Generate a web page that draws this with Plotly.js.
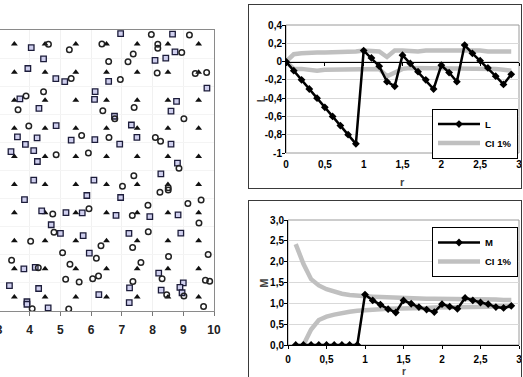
<!DOCTYPE html>
<html><head><meta charset="utf-8">
<script src="https://cdn.plot.ly/plotly-3.0.1.min.js"></script>
<style>
html,body{margin:0;padding:0;background:#fff;overflow:hidden;width:523px;height:377px;position:relative}
#p1{position:absolute;left:-61px;top:0;width:300px;height:377px}
#p2{position:absolute;left:248px;top:4px;width:275px;height:185px}
#p3{position:absolute;left:248px;top:200px;width:275px;height:177px}
.box{position:absolute;box-sizing:border-box;border:1.5px solid #3a3a3a;pointer-events:none}
</style></head><body>
<div id="p1"></div><div id="p2"></div><div id="p3"></div>
<div class="box" style="left:248px;top:4px;width:274px;height:185px"></div>
<div class="box" style="left:248px;top:200px;width:274px;height:200px"></div>
<script>
// ---------- Left panel: point pattern ----------
const triX = [3.5,4.5,5.5,6.5,7.5,8.5,9.5, 3.5,4.5,5.5,6.5,7.5,8.5,9.5, 3.5,4.5,5.5,6.5,7.5,8.5,9.5, 3.5,4.5,5.5,6.5,7.5,8.5,9.5, 3.5,4.5,5.5,6.5,7.5,8.5,9.5,
              3.5,4.5,5.5,6.5,7.5,8.5,9.5, 3.5,4.5,5.5,6.5,7.5,8.5,9.5, 3.5,4.5,5.5,6.5,7.5,8.5,9.5, 3.5,4.5,5.5,6.5,7.5,8.5,9.5, 3.5,4.5,5.5,6.5,7.5,8.5,9.5];
const triY = [0.5,0.5,0.5,0.5,0.5,0.5,0.5, 1.5,1.5,1.5,1.5,1.5,1.5,1.5, 2.5,2.5,2.5,2.5,2.5,2.5,2.5, 3.5,3.5,3.5,3.5,3.5,3.5,3.5, 4.5,4.5,4.5,4.5,4.5,4.5,4.5,
              5.5,5.5,5.5,5.5,5.5,5.5,5.5, 6.5,6.5,6.5,6.5,6.5,6.5,6.5, 7.5,7.5,7.5,7.5,7.5,7.5,7.5, 8.5,8.5,8.5,8.5,8.5,8.5,8.5, 9.5,9.5,9.5,9.5,9.5,9.5,9.5];
const circX = [7.96,9.2,4.61,5.29,6.35,8.17,8.17,7.37,8.95,6.57,7.2,8.15,9.39,9.76,5.35,6.95,4.45,3.88,3.62,6.38,7.4,6.77,9.02,3.97,5.69,6.58,8.09,8.26,4.86,5.91,
               7.39,8.86,7.02,8.51,8.51,8.24,7.85,9.15,9.58,4.75,5.93,7.34,9.51,4.79,7.86,4.03,6.32,7.35,5.07,6.17,3.41,5.31,7.62,8.52,9.81,4.28,5.17,5.61,6.05,6.24,
               7.36,8.31,9.72,9.86,8.46,9.02,4.08,5.27,9.66];
const circY = [9.84,9.82,9.49,9.3,9.5,9.49,9.35,9.15,9.2,8.88,8.87,8.47,8.45,8.49,8.27,8.24,7.8,7.65,7.16,7.13,7.24,6.84,6.84,6.58,6.25,6.17,6.17,6.04,5.56,5.62,
               4.81,5.08,4.44,4.39,4.31,4.23,3.76,3.83,3.95,3.45,3.64,3.4,3.13,2.8,2.82,2.48,2.32,2.26,2.07,1.88,1.81,1.66,1.73,1.94,2.01,1.54,1.13,1.03,1.15,1.25,
               1.05,1.15,1.09,1.06,0.58,0.53,0.08,0.07,0.16];
const sqX = [6.96,8.65,4.05,4.45,3.94,8.73,8.43,8.08,4.85,5.14,6.57,9.77,6.13,6.11,3.68,4.3,8.78,8.6,6.76,4.86,7.31,3.6,4.24,5.35,6.12,7.49,3.86,6.93,8.6,3.39,
             4.13,4.25,8.81,8.27,4.13,6.09,3.83,5.86,6.96,4.39,5.18,5.71,6.81,8.83,7.91,4.7,5.0,5.74,7.23,8.92,5.94,3.81,4.18,8.2,3.34,4.29,6.25,7.25,9.0,8.89,
             8.28,8.96,3.91,3.91,4.6,7.24];
const sqY = [9.87,9.85,9.37,8.97,8.63,9.22,9.0,8.92,8.27,8.16,8.17,7.93,7.81,7.53,7.55,7.21,7.46,7.11,6.93,6.6,6.62,6.2,6.16,6.08,6.1,6.18,5.93,5.94,5.94,5.67,
             5.71,5.32,5.26,4.88,4.66,4.66,3.96,4.11,4.04,3.56,3.5,3.49,3.4,3.42,3.36,3.07,2.76,2.68,2.76,2.77,2.06,1.5,1.55,1.35,0.9,0.8,0.58,0.82,1.0,0.84,
             0.74,0.65,0.33,0.24,0.11,0.3];
const leftTicks = [3,4,5,6,7,8,9,10];
const leftTickText = ['3','4','5','6','7','8','9','10'];

// ---------- L function ----------
const rL = [0,0.1,0.2,0.3,0.4,0.5,0.6,0.7,0.8,0.9,1.0,1.1,1.2,1.3,1.4,1.5,1.6,1.7,1.8,1.9,2.0,2.1,2.2,2.3,2.4,2.5,2.6,2.7,2.8,2.9];
const L = [0,-0.1,-0.2,-0.3,-0.4,-0.5,-0.6,-0.7,-0.8,-0.9,0.12,0.04,-0.05,-0.22,-0.27,0.07,-0.02,-0.11,-0.2,-0.3,-0.04,-0.12,-0.22,0.18,0.09,0.01,-0.07,-0.16,-0.25,-0.14];
const L_ciUp = [0,0.08,0.09,0.1,0.1,0.1,0.1,0.1,0.11,0.11,0.12,0.12,0.11,0.05,0.12,0.12,0.11,0.11,0.12,0.12,0.13,0.13,0.13,0.13,0.12,0.12,0.11,0.11,0.11,0.11];
const L_ciLo = [0,-0.08,-0.08,-0.09,-0.1,-0.09,-0.09,-0.09,-0.09,-0.09,-0.09,-0.09,-0.08,-0.16,-0.12,-0.08,-0.07,-0.07,-0.07,-0.07,-0.07,-0.07,-0.07,-0.07,-0.07,-0.07,-0.08,-0.08,-0.09,-0.1];
const L_yTicks = [-1,-0.8,-0.6,-0.4,-0.2,0,0.2,0.4];
const L_yText = ['-1','-0,8','-0,6','-0,4','-0,2','0','0,2','0,4'];

// ---------- M function ----------
const rM = [0.1,0.2,0.3,0.4,0.5,0.6,0.7,0.8,0.9,1.0,1.1,1.2,1.3,1.4,1.5,1.6,1.7,1.8,1.9,2.0,2.1,2.2,2.3,2.4,2.5,2.6,2.7,2.8,2.9];
const M = [0,0,0,0,0,0,0,0,0,1.21,1.07,0.97,0.86,0.78,1.07,0.99,0.91,0.85,0.79,0.98,0.92,0.87,1.13,1.07,1.02,0.98,0.91,0.89,0.94];
const M_ciUp = [2.42,1.95,1.58,1.43,1.34,1.28,1.23,1.2,1.18,1.17,1.16,1.15,1.14,1.13,1.13,1.12,1.12,1.11,1.11,1.11,1.1,1.1,1.1,1.09,1.09,1.09,1.09,1.08,1.08];
const M_ciLo = [null,0,0.37,0.6,0.68,0.73,0.77,0.8,0.82,0.84,0.85,0.86,0.87,0.87,0.88,0.88,0.89,0.89,0.9,0.9,0.9,0.91,0.91,0.91,0.92,0.92,0.93,0.93,0.93];
const M_yTicks = [0,0.5,1,1.5,2,2.5,3];
const M_yText = ['0,0','0,5','1,0','1,5','2,0','2,5','3,0'];

const rTicks = [0,0.5,1,1.5,2,2.5,3];
const rText = ['0','0,5','1','1,5','2','2,5','3'];

const FF = 'Liberation Sans, Arial, sans-serif';
const cfg = {staticPlot:true};

// Left
Plotly.newPlot('p1', [
  {x:triX, y:triY, mode:'markers', type:'scatter', marker:{symbol:'triangle-up', size:6, color:'#111'}},
  {x:sqX, y:sqY, mode:'markers', type:'scatter', marker:{symbol:'square', size:5.5, color:'#cfcfee', line:{color:'#1c1c3a', width:1.3}}},
  {x:circX, y:circY, mode:'markers', type:'scatter', marker:{symbol:'circle-open', size:5.5, color:'#222', line:{width:1.5}}}
], {
  width:300, height:377, margin:{l:60,r:25,t:30,b:66},
  paper_bgcolor:'rgba(0,0,0,0)', plot_bgcolor:'#fff', showlegend:false,
  xaxis:{range:[3,10], tickvals:leftTicks, ticktext:leftTickText, showline:true, mirror:true, linecolor:'#8a8a8a', linewidth:1,
         ticks:'outside', ticklen:4, tickcolor:'#777', showgrid:true, gridcolor:'#f1f1f1', zeroline:false, ticklabelstandoff:4,
         tickfont:{family:FF, size:12, color:'#222', weight:'bold'}},
  yaxis:{range:[0,10], dtick:1, showline:true, mirror:true, linecolor:'#8a8a8a', showticklabels:false, ticks:'',
         showgrid:true, gridcolor:'#f4f4f4', zeroline:false}
}, cfg);

// L chart
const tf = {family:FF, size:10, color:'#000', weight:'bold'};
const lf = {family:FF, size:9.5, color:'#000', weight:'bold'};
Plotly.newPlot('p2', [
  {x:rL, y:L_ciUp, mode:'lines', name:'CI 1%', legendrank:2, line:{color:'#c0c0c0', width:4.5}},
  {x:rL, y:L_ciLo, mode:'lines', name:'CI 1%', showlegend:false, line:{color:'#c0c0c0', width:4.5}},
  {x:rL, y:L, mode:'lines+markers', name:'L', legendrank:1, line:{color:'#000', width:2.5}, marker:{symbol:'diamond', size:6, color:'#000'}},
  {x:[], y:[], xaxis:'x2', showlegend:false, mode:'lines'}
], {
  width:275, height:185, margin:{l:38,r:4,t:21,b:36},
  paper_bgcolor:'rgba(0,0,0,0)', plot_bgcolor:'#fff',
  xaxis:{range:[0,3], tickvals:rTicks, ticktext:rText, showline:false, ticks:'', showgrid:false, zeroline:false, tickfont:tf, ticklabelstandoff:4},
  xaxis2:{range:[0,3], overlaying:'x', anchor:'free', position:1/1.4, showline:true, linecolor:'#000', linewidth:1,
          ticks:'outside', ticklen:3, tickcolor:'#000', dtick:0.5, showticklabels:false, showgrid:false, zeroline:false},
  yaxis:{range:[-1,0.4], tickvals:L_yTicks, ticktext:L_yText, showline:true, linecolor:'#000', ticks:'outside', ticklen:3,
         tickcolor:'#000', showgrid:true, gridcolor:'#d9d9d9', zeroline:false, tickfont:tf, ticklabelstandoff:-2},
  shapes:[{type:'rect', xref:'paper', yref:'paper', x0:0, x1:1, y0:0, y1:1, line:{color:'#9a9a9a', width:1}, layer:'below'}],
  legend:{x:0.9957, xanchor:'right', y:0.347, yanchor:'top', bgcolor:'#fff', bordercolor:'#000', borderwidth:1,
          font:lf, tracegroupgap:0, itemwidth:42},
  annotations:[
    {text:'r', xref:'paper', yref:'paper', x:0.498, y:0, yshift:-29, showarrow:false, yanchor:'middle', font:{family:FF, size:11, weight:'bold'}},
    {text:'L', xref:'paper', yref:'paper', x:0, xshift:-33, y:0.42, showarrow:false, textangle:-90, font:{family:FF, size:11, weight:'bold'}}
  ]
}, cfg);

// M chart
Plotly.newPlot('p3', [
  {x:rM, y:M_ciUp, mode:'lines', name:'CI 1%', legendrank:2, line:{color:'#c0c0c0', width:4.5}},
  {x:rM, y:M_ciLo, mode:'lines', name:'CI 1%', showlegend:false, line:{color:'#c0c0c0', width:4.5}},
  {x:rM, y:M, mode:'lines+markers', name:'M', legendrank:1, line:{color:'#000', width:2.5}, marker:{symbol:'diamond', size:6, color:'#000'}}
], {
  width:275, height:177, margin:{l:40,r:4,t:20,b:32},
  paper_bgcolor:'rgba(0,0,0,0)', plot_bgcolor:'#fff',
  xaxis:{range:[0,3], tickvals:rTicks, ticktext:rText, showline:true, linecolor:'#000', ticks:'outside', ticklen:3, tickcolor:'#000',
         showgrid:false, zeroline:false, tickfont:tf, ticklabelstandoff:2},
  yaxis:{range:[0,3], tickvals:M_yTicks, ticktext:M_yText, showline:true, linecolor:'#000', ticks:'outside', ticklen:3,
         tickcolor:'#000', showgrid:true, gridcolor:'#d9d9d9', zeroline:false, tickfont:tf, ticklabelstandoff:-2},
  shapes:[{type:'rect', xref:'paper', yref:'paper', x0:0, x1:1, y0:0, y1:1, line:{color:'#9a9a9a', width:1}, layer:'below'}],
  legend:{x:0.9957, xanchor:'right', y:0.944, yanchor:'top', bgcolor:'#fff', bordercolor:'#000', borderwidth:1,
          font:lf, tracegroupgap:0, itemwidth:42},
  annotations:[
    {text:'r', xref:'paper', yref:'paper', x:0.502, y:0, yshift:-26, showarrow:false, yanchor:'middle', font:{family:FF, size:10, weight:'bold'}},
    {text:'M', xref:'paper', yref:'paper', x:0, xshift:-32, y:0.49, showarrow:false, textangle:-90, font:{family:FF, size:11, weight:'bold'}}
  ]
}, cfg);
</script></body></html>
